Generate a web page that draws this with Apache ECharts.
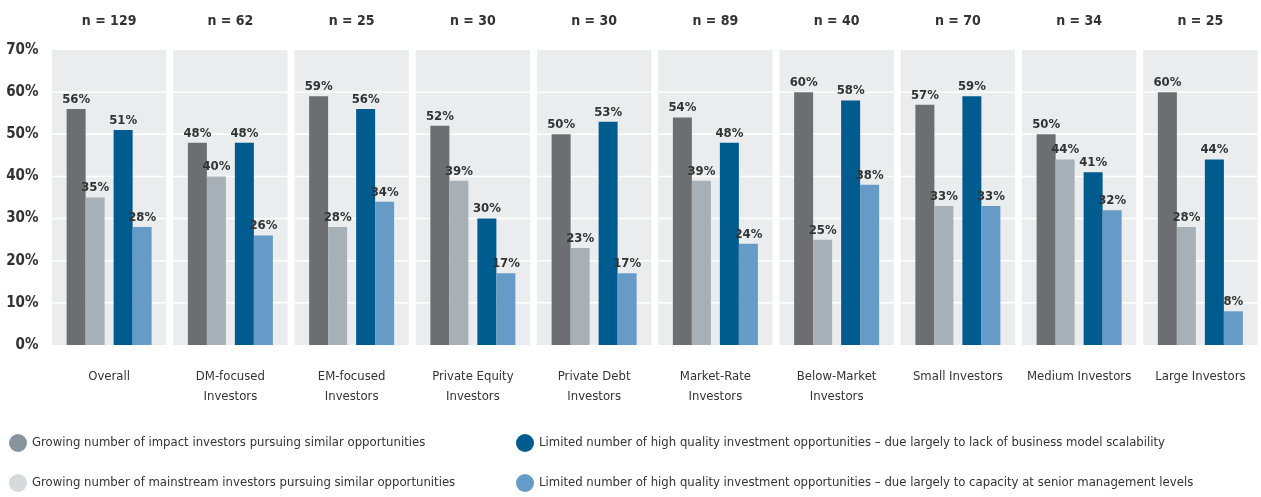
<!DOCTYPE html>
<html lang="en">
<head>
<meta charset="UTF-8">
<title>Challenges</title>
<script src="https://cdn.jsdelivr.net/npm/echarts@6/dist/echarts.min.js"></script>
<style>
  body{margin:0;background:#fff;}
  #main{width:1261px;height:497px;}
</style>
</head>
<body>
<div id="main"></div>
<script>
var categories = ['Overall', 'DM-focused\nInvestors', 'EM-focused\nInvestors', 'Private Equity\nInvestors',
  'Private Debt\nInvestors', 'Market-Rate\nInvestors', 'Below-Market\nInvestors', 'Small Investors',
  'Medium Investors', 'Large Investors'];
var sampleSizes = ['n = 129', 'n = 62', 'n = 25', 'n = 30', 'n = 30', 'n = 89', 'n = 40', 'n = 70', 'n = 34', 'n = 25'];
var impactInvestors = [56, 48, 59, 52, 50, 54, 60, 57, 50, 60];
var mainstreamInvestors = [35, 40, 28, 39, 23, 39, 25, 33, 44, 28];
var lackScalability = [51, 48, 56, 30, 53, 48, 58, 59, 41, 44];
var seniorCapacity = [28, 26, 34, 17, 17, 24, 38, 33, 32, 8];
var seriesNames = [
  'Growing number of impact investors pursuing similar opportunities',
  'Growing number of mainstream investors pursuing similar opportunities',
  'Limited number of high quality investment opportunities \u2013 due largely to lack of business model scalability',
  'Limited number of high quality investment opportunities \u2013 due largely to capacity at senior management levels'
];
var yTicks = [0, 10, 20, 30, 40, 50, 60, 70];

var FONT = '"Liberation Sans Narrow", "DejaVu Sans Condensed", "Arial Narrow", sans-serif';
var barColors = ['#6d6e72', '#a7b0b6', '#005b8e', '#659bc6'];
var legendColors = ['#87949e', '#d5dadc', '#005b8e', '#659bc6'];

var myChart = echarts.init(document.getElementById('main'));

function barSeries(name, data, color) {
  return {
    name: name,
    type: 'bar',
    data: data,
    barWidth: 19,
    barGap: '0%',
    z: 3,
    itemStyle: {color: color},
    label: {
      show: true,
      position: 'top',
      distance: 3,
      formatter: '{c}%',
      fontFamily: FONT,
      fontWeight: 'bold',
      fontSize: 13,
      color: '#333'
    }
  };
}

// panels behind each group, with white grid lines
function renderPanel(params, api) {
  var idx = api.value(0);
  var top = api.coord([idx, yTicks[yTicks.length - 1]]);
  var bottom = api.coord([idx, 0]);
  var band = api.size([1, 0])[0];
  var w = band - 7;
  var x0 = top[0] - w / 2;
  var children = [{
    type: 'rect',
    shape: {x: x0, y: top[1], width: w, height: bottom[1] - top[1]},
    style: {fill: '#ebeced'}
  }];
  for (var i = 1; i < yTicks.length - 1; i++) {
    var p = api.coord([idx, yTicks[i]]);
    children.push({
      type: 'line',
      shape: {x1: x0, y1: p[1], x2: x0 + w, y2: p[1]},
      style: {stroke: '#ffffff', lineWidth: 1.5}
    });
  }
  return {type: 'group', children: children};
}

// one legend per item so the 2x2 layout is fixed
var legendPos = [[4, 429], [4, 469], [511, 429], [511, 469]];
var legends = seriesNames.map(function (name, i) {
  return {
    left: legendPos[i][0],
    top: legendPos[i][1],
    itemWidth: 18,
    itemHeight: 18,
    icon: 'circle',
    textStyle: {fontFamily: FONT, fontSize: 13, color: '#333'},
    data: [{name: name, itemStyle: {color: legendColors[i]}}]
  };
});

var option = {
  animation: false,
  grid: {left: 48.5, right: 0, top: 50, bottom: 152},
  legend: legends,
  xAxis: [{
    type: 'category',
    data: categories,
    axisLine: {show: false},
    axisTick: {show: false},
    axisLabel: {
      margin: 22,
      interval: 0,
      fontFamily: FONT,
      fontSize: 13,
      lineHeight: 20,
      color: '#333'
    }
  }, {
    type: 'category',
    position: 'top',
    data: sampleSizes,
    axisLine: {show: false},
    axisTick: {show: false},
    axisLabel: {
      margin: 22,
      interval: 0,
      fontFamily: FONT,
      fontWeight: 'bold',
      fontSize: 14,
      color: '#333'
    }
  }],
  yAxis: {
    type: 'value',
    min: 0,
    max: 70,
    interval: 10,
    splitLine: {show: false},
    axisLine: {show: false},
    axisTick: {show: false},
    axisLabel: {
      margin: 10,
      formatter: '{value}%',
      fontFamily: FONT,
      fontWeight: 'bold',
      fontSize: 15,
      color: '#333'
    }
  },
  series: [{
    type: 'custom',
    z: 1,
    silent: true,
    renderItem: renderPanel,
    data: categories.map(function (c, i) { return i; })
  },
    barSeries(seriesNames[0], impactInvestors, barColors[0]),
    barSeries(seriesNames[1], mainstreamInvestors, barColors[1]),
    {
      name: 'spacer',
      type: 'bar',
      barWidth: 9,
      barGap: '0%',
      data: categories.map(function () { return '-'; }),
      itemStyle: {color: 'rgba(0,0,0,0)'}
    },
    barSeries(seriesNames[2], lackScalability, barColors[2]),
    barSeries(seriesNames[3], seniorCapacity, barColors[3])
  ]
};
myChart.setOption(option);
</script>
</body>
</html>
